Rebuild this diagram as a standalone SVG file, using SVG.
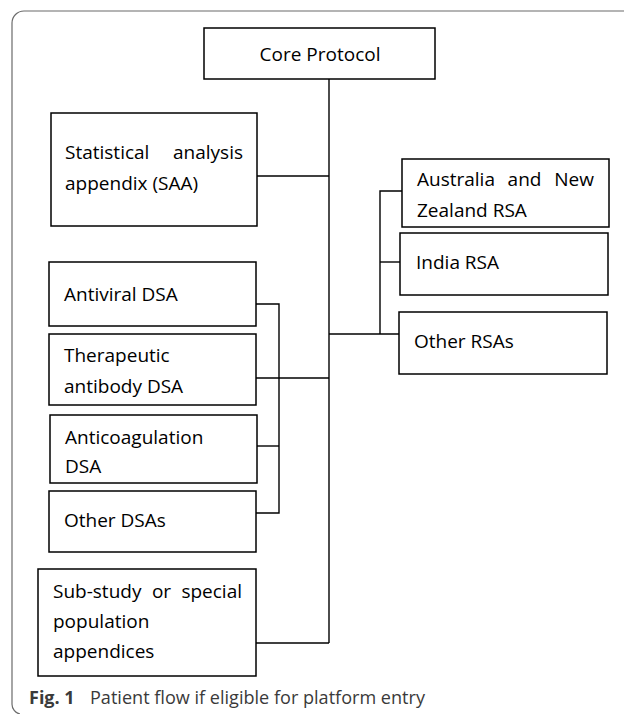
<svg xmlns="http://www.w3.org/2000/svg" width="624" height="714" viewBox="0 0 624 714">
<style>
.box{fill:#fff;stroke:#000;stroke-width:1.5}
.t{font-family:"Open Sans","Liberation Sans",sans-serif;font-size:19px;fill:#000}
.ln{fill:none;stroke:#000;stroke-width:1.4}
.frame{fill:none;stroke:#6b6b6b;stroke-width:1.2}
.cap{font-family:"Open Sans","Liberation Sans",sans-serif;font-size:18px;fill:#3a3a3a}
</style>
<rect width="624" height="714" fill="#fff"/>
<path class="frame" d="M624,11 H24 A12,12 0 0 0 12,23 V704 A10,10 0 0 0 20,714"/>
<g id="connectors">
<path class="ln" d="M329,79 V643"/>
<path class="ln" d="M257,176 H329"/>
<path class="ln" d="M256,643 H329"/>
<path class="ln" d="M256,378 H329"/>
<path class="ln" d="M256,304 H279 V513 H256"/>
<path class="ln" d="M257,446 H279"/>
<path class="ln" d="M329,334 H399"/>
<path class="ln" d="M380,334 V191 H402"/>
<path class="ln" d="M380,262 H400"/>
</g>
<g id="core">
<rect class="box" x="204" y="28" width="231" height="51"/>
<text class="t" x="320" y="61" text-anchor="middle">Core Protocol</text>
</g>
<g id="saa">
<rect class="box" x="51" y="113" width="206" height="113"/>
<text class="t" y="159"><tspan x="65">Statistical</tspan><tspan x="243" text-anchor="end">analysis</tspan></text>
<text class="t" x="65" y="190">appendix (SAA)</text>
</g>
<g id="aus">
<rect class="box" x="402" y="159" width="207" height="68"/>
<text class="t" y="186"><tspan x="417">Australia</tspan><tspan x="524.5" text-anchor="middle">and</tspan><tspan x="594" text-anchor="end">New</tspan></text>
<text class="t" x="417" y="217">Zealand RSA</text>
</g>
<g id="india">
<rect class="box" x="400" y="233" width="208" height="62"/>
<text class="t" x="416" y="269">India RSA</text>
</g>
<g id="otherrsa">
<rect class="box" x="399" y="312" width="208" height="62"/>
<text class="t" x="414" y="348">Other RSAs</text>
</g>
<g id="antiviral">
<rect class="box" x="49" y="262" width="207" height="64"/>
<text class="t" x="64" y="301">Antiviral DSA</text>
</g>
<g id="therapeutic">
<rect class="box" x="49" y="334" width="207" height="71"/>
<text class="t" x="64" y="362">Therapeutic</text>
<text class="t" x="64" y="393">antibody DSA</text>
</g>
<g id="anticoag">
<rect class="box" x="50" y="415" width="207" height="68"/>
<text class="t" x="65" y="444">Anticoagulation</text>
<text class="t" x="65" y="473">DSA</text>
</g>
<g id="otherdsa">
<rect class="box" x="49" y="491" width="207" height="61"/>
<text class="t" x="64" y="527">Other DSAs</text>
</g>
<g id="substudy">
<rect class="box" x="38" y="569" width="218" height="107"/>
<text class="t" y="598"><tspan x="53">Sub-study</tspan><tspan x="161.5" text-anchor="middle">or</tspan><tspan x="242" text-anchor="end">special</tspan></text>
<text class="t" x="53" y="628">population</text>
<text class="t" x="53" y="658">appendices</text>
</g>
<g id="caption">
<text class="cap" x="29" y="704" font-weight="bold" fill="#222">Fig. 1</text>
<text class="cap" x="90" y="704" textLength="335" lengthAdjust="spacingAndGlyphs">Patient flow if eligible for platform entry</text>
</g>
</svg>
